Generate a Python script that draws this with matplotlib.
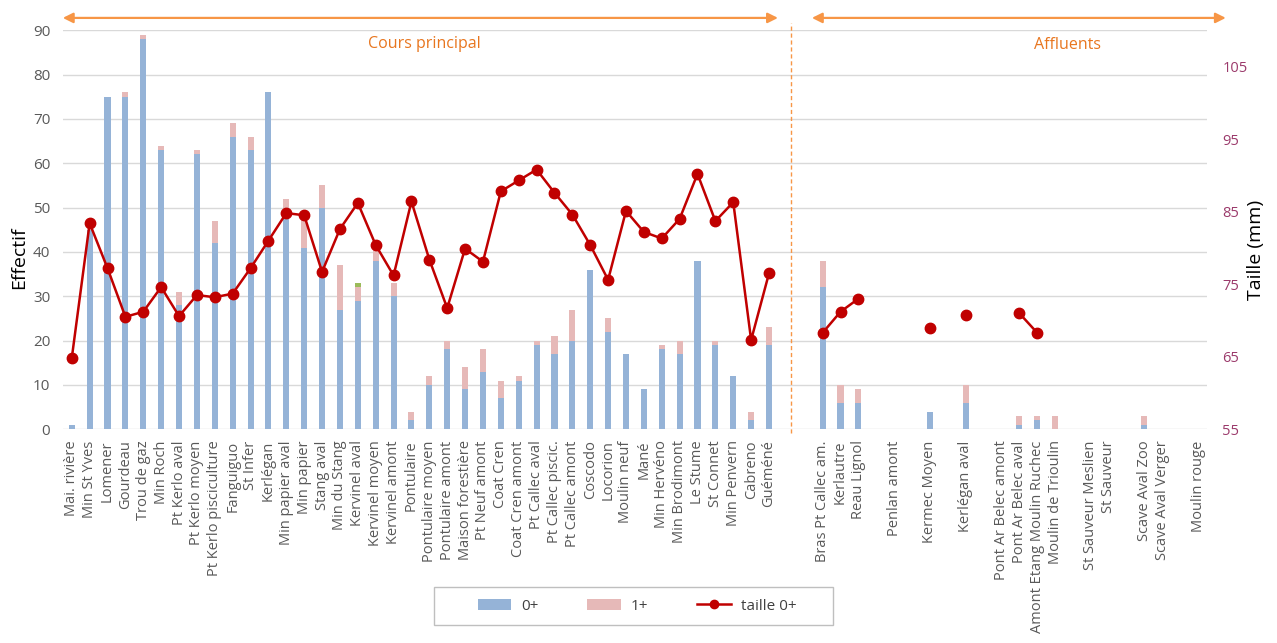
import numpy as np
import matplotlib
matplotlib.use("Agg")
import matplotlib.pyplot as plt
from matplotlib.lines import Line2D
from matplotlib.patches import Patch, Rectangle
import matplotlib.transforms as mtransforms

plt.rcParams['font.family'] = ['Open Sans', 'DejaVu Sans']

# Stations: main river (0-39), then tributaries; empty strings are spacer slots
stations = [
    "Mai. rivière", "Min St Yves", "Lomener", "Gourdeau", "Trou de gaz", "Min Roch",
    "Pt Kerlo aval", "Pt Kerlo moyen", "Pt Kerlo pisciculture", "Fanguiguo", "St Infer",
    "Kerlégan", "Min papier aval", "Min papier", "Stang aval", "Min du Stang",
    "Kervinel aval", "Kervinel moyen", "Kervinel amont", "Pontulaire", "Pontulaire moyen",
    "Pontulaire amont", "Maison forestière", "Pt Neuf amont", "Coat Cren", "Coat Cren amont",
    "Pt Callec aval", "Pt Callec piscic.", "Pt Callec amont", "Coscodo", "Locorion",
    "Moulin neuf", "Mané", "Min Hervéno", "Min Brodimont", "Le Stume", "St Connet",
    "Min Penvern", "Cabreno", "Guéméné",
    "", "",
    "Bras Pt Callec am.", "Kerlautre", "Reau Lignol", "", "Penlan amont", "",
    "Kermec Moyen", "", "Kerlégan aval", "", "Pont Ar Belec amont", "Pont Ar Belec aval",
    "Amont Etang Moulin Ruchec", "Moulin de Trioulin", "", "St Sauveur Meslien",
    "St Sauveur", "", "Scave Aval Zoo", "Scave Aval Verger", "", "Moulin rouge",
]

# Counts of 0+ fish
effectif_0 = [
    1, 45, 75, 75, 88, 63, 28, 62, 42, 66, 63, 76, 49, 41, 50, 27, 29, 38, 30, 2,
    10, 18, 9, 13, 7, 11, 19, 17, 20, 36, 22, 17, 9, 18, 17, 38, 19, 12, 2, 19,
    0, 0,
    32, 6, 6, 0, 0, 0, 4, 0, 6, 0, 0, 1, 2, 0, 0, 0, 0, 0, 1, 0, 0, 0,
]

# Counts of 1+ fish
effectif_1 = [
    0, 0, 0, 1, 1, 1, 3, 1, 5, 3, 3, 0, 3, 7, 5, 10, 3, 4, 3, 2,
    2, 2, 5, 5, 4, 1, 1, 4, 7, 0, 3, 0, 0, 1, 3, 0, 1, 0, 2, 4,
    0, 0,
    6, 4, 3, 0, 0, 0, 0, 0, 4, 0, 0, 2, 1, 3, 0, 0, 0, 0, 2, 0, 0, 0,
]

# Counts of 2+ fish
effectif_2 = [
    0, 0, 0, 0, 0, 0, 0, 0, 0, 0, 0, 0, 0, 0, 0, 0, 1, 0, 0, 0,
    0, 0, 0, 0, 0, 0, 0, 0, 0, 0, 0, 0, 0, 0, 0, 0, 0, 0, 0, 0,
    0, 0,
    0, 0, 0, 0, 0, 0, 0, 0, 0, 0, 0, 0, 0, 0, 0, 0, 0, 0, 0, 0, 0, 0,
]

# Mean length of 0+ fish (mm); None where not measured
taille_0 = [
    64.8, 83.4, 77.2, 70.5, 71.2, 74.6, 70.6, 73.5, 73.2, 73.7, 77.2, 81.0, 84.8, 84.5,
    76.7, 82.6, 86.2, 80.4, 76.2, 86.4, 78.4, 71.7, 79.9, 78.1, 87.8, 89.3, 90.8, 87.6,
    84.6, 80.4, 75.6, 85.1, 82.2, 81.3, 84.0, 90.2, 83.7, 86.3, 67.3, 76.5,
    None, None,
    68.3, 71.2, 73.0, None, None, None, 69.0, None, 70.7, None, None, 71.0, 68.3,
    None, None, None, None, None, None, None, None, None,
]

C_BLUE = "#95B3D7"
C_PINK = "#E6B9B8"
C_GREEN = "#9BBB59"
C_RED = "#C00000"
C_ORANGE = "#F79646"
C_ORANGE_TXT = "#E8761F"
C_GRID = "#D9D9D9"
C_TICK = "#595959"
C_RIGHT = "#9B3A6B"

fig = plt.figure(figsize=(12.77, 6.43), dpi=100)
ax = fig.add_axes([0.0492, 0.3324, 0.8960, 0.6205])

x = np.arange(len(stations))
e0 = np.array(effectif_0, dtype=float)
e1 = np.array(effectif_1, dtype=float)
e2 = np.array(effectif_2, dtype=float)
w = 0.34
ax.bar(x, e0, width=w, color=C_BLUE, zorder=2)
ax.bar(x, e1, width=w, bottom=e0, color=C_PINK, zorder=2)
ax.bar(x, e2, width=w, bottom=e0 + e1, color=C_GREEN, zorder=2)

ax.set_xlim(-0.5, len(stations) - 0.5)
ax.set_ylim(0, 90)
ax.set_yticks(np.arange(0, 91, 10))
ax.yaxis.grid(True, color=C_GRID, linewidth=1.0, zorder=0)
ax.set_axisbelow(True)
for s in ax.spines.values():
    s.set_visible(False)
ax.tick_params(axis='y', length=0, pad=9, labelsize=11, labelcolor=C_TICK)
ax.set_xticks(x)
ax.set_xticklabels(stations, rotation=90, fontsize=10.5, color=C_TICK)
ax.tick_params(axis='x', length=0, pad=8)
ax.set_ylabel("Effectif", fontsize=14, color="black", va='center')
ax.yaxis.set_label_coords(-0.0383, 0.429)

ax2 = ax.twinx()
ax2.set_ylim(55, 110)
ax2.set_yticks(np.arange(55, 106, 10))
for s in ax2.spines.values():
    s.set_visible(False)
ax2.tick_params(axis='y', length=0, pad=11, labelsize=10.5, labelcolor=C_RIGHT)
ax2.set_ylabel("Taille (mm)", fontsize=14, color="black", va='center')
ax2.yaxis.set_label_coords(1.0428, 0.449)
t = np.array([np.nan if v is None else v for v in taille_0], dtype=float)
ax2.plot(x, t, color=C_RED, linewidth=1.8, marker='o', markersize=7.5,
         markerfacecolor=C_RED, markeredgecolor=C_RED, zorder=3)

# Section arrows and labels above the plot
tr = mtransforms.blended_transform_factory(ax.transData, ax.transAxes)
arrow_kw = dict(arrowstyle='<|-|>', color=C_ORANGE, lw=1.6, mutation_scale=15,
                shrinkA=0, shrinkB=0)
ax.annotate("", xy=(-0.5, 1.031), xytext=(39.5, 1.031), xycoords=tr,
            textcoords=tr, arrowprops=arrow_kw, annotation_clip=False)
ax.annotate("", xy=(41.4, 1.031), xytext=(64.55, 1.031), xycoords=tr,
            textcoords=tr, arrowprops=arrow_kw, annotation_clip=False)
ax.text(19.7, 0.966, "Cours principal", transform=tr, ha='center', va='center',
        fontsize=11.5, color=C_ORANGE_TXT)
ax.text(55.7, 0.964, "Affluents", transform=tr, ha='center', va='center',
        fontsize=11.5, color=C_ORANGE_TXT)
ax.plot([40.25, 40.25], [-0.01, 1.018], transform=tr, color=C_ORANGE,
        linewidth=1.0, linestyle=(0, (3, 2)), clip_on=False, zorder=1)

# Legend box and entries
W, H = 1277.0, 643.0
fig.patches.append(Rectangle((434 / W, 1 - 625 / H), (833 - 434) / W, (625 - 587) / H,
                             transform=fig.transFigure, facecolor='white',
                             edgecolor="#BFBFBF", linewidth=1.0, zorder=5))
handles = [
    Patch(facecolor=C_BLUE, edgecolor='none', label='0+'),
    Patch(facecolor=C_PINK, edgecolor='none', label='1+'),
    Line2D([0], [0], color=C_RED, lw=1.8, marker='o', markersize=6, label='taille 0+'),
]
leg = fig.legend(handles=handles, loc='center', bbox_to_anchor=(637 / W, 1 - 606 / H),
                 ncol=3, frameon=False, fontsize=11,
                 handlelength=2.2, handleheight=0.7, columnspacing=3.2,
                 borderpad=0.0, handletextpad=0.65, borderaxespad=0)
leg.set_zorder(6)
for txt in leg.get_texts():
    txt.set_color("#404040")

fig.savefig("out.png", dpi=100)
